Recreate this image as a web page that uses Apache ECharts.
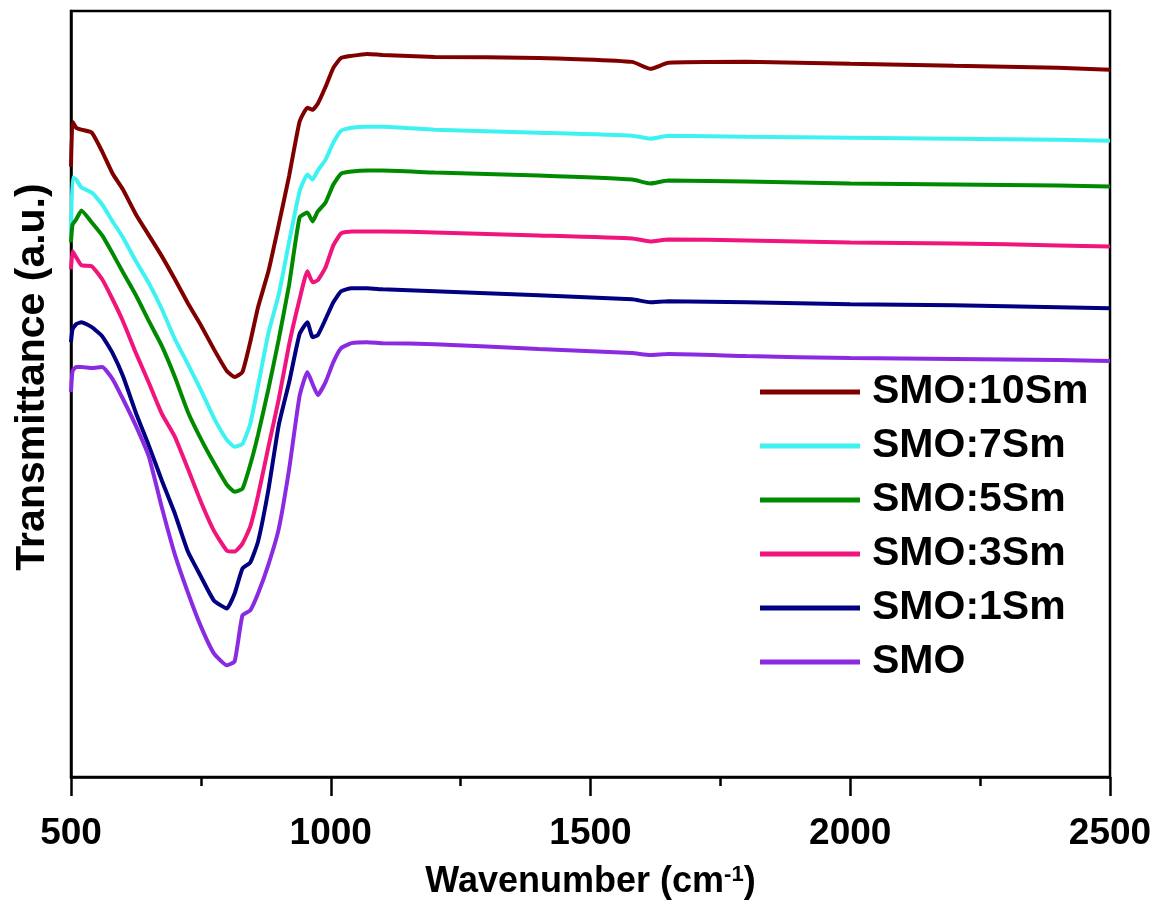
<!DOCTYPE html>
<html>
<head>
<meta charset="utf-8">
<script src="https://cdn.jsdelivr.net/npm/echarts@6/dist/echarts.min.js"></script>
<style>
html,body{margin:0;padding:0;background:#fff;}
#chart{width:1159px;height:905px;}
</style>
</head>
<body>
<div id="chart"></div>
<script>
// Wavenumber (cm-1)
const wavenumber = [500,503,510,520,540,560,580,600,625,650,675,700,725,750,775,800,815,830,845,860,880,900,920,940,955,965,975,990,1005,1020,1040,1070,1100,1200,1400,1580,1615,1650,1800,2000,2200,2400,2500];

// Transmittance (a.u., stacked offsets as plotted)
const smo10Sm = [612,657,651,649,646,627,605,589,564,543,522,499,475,453,429,407,401,406,436,471,507,554,603,657,671,669,675,692,711,721,723,725,724,722,721,717,710,716,717,715,713,711,709];
const smo7Sm  = [546,601,599,591,586,574,557,541,517,495,469,439,414,388,360,338,331,334,354,392,445,484,537,587,604,599,608,619,636,648,651,652,652,649,646,643,640,643,642,641,640,639,638];
const smo5Sm  = [536,554,559,568,556,543,525,506,483,457,432,401,366,339,315,293,286,289,313,343,389,439,494,561,566,557,567,576,594,605,607,608,608,606,603,599,595,598,597,595,594,593,592];
const smo3Sm  = [509,527,521,513,512,499,479,457,425,395,364,341,309,276,247,227,226,234,251,282,331,379,434,479,507,496,498,511,533,545,547,547,547,546,543,540,537,539,538,536,535,533,532];
const smo1Sm  = [436,449,454,456,451,442,425,402,365,332,297,264,226,201,177,169,184,209,215,236,288,353,396,444,456,441,443,459,476,487,490,490,489,487,483,479,476,477,476,474,473,471,470];
const smo     = [386,407,411,411,410,411,399,379,352,321,270,223,185,151,124,112,116,162,167,184,213,249,309,382,406,394,383,396,416,430,435,436,435,434,429,425,423,424,422,420,419,418,417];

const seriesNames = ['SMO:10Sm','SMO:7Sm','SMO:5Sm','SMO:3Sm','SMO:1Sm','SMO'];
const seriesValues = [smo10Sm, smo7Sm, smo5Sm, smo3Sm, smo1Sm, smo];
const seriesColors = ['#800000','#3ff2f2','#008a00','#f0147c','#000080','#8a2be2'];

const xTicks = [500,1000,1500,2000,2500];

const FONT = '"Liberation Sans", Arial, sans-serif';

const chart = echarts.init(document.getElementById('chart'));
chart.setOption({
  backgroundColor: '#ffffff',
  animation: false,
  grid: {
    left: 71, right: 49, top: 11, bottom: 126,
    show: true, borderColor: '#000', borderWidth: 2.5, backgroundColor: 'transparent'
  },
  legend: {
    orient: 'vertical',
    left: 755,
    top: 365,
    icon: 'rect',
    itemWidth: 100,
    itemHeight: 5,
    itemGap: 10,
    data: seriesNames,
    textStyle: {
      fontFamily: FONT, fontWeight: 'bold', fontSize: 41, color: '#000',
      lineHeight: 44, padding: [0,0,0,7]
    }
  },
  xAxis: {
    type: 'value',
    min: 500, max: 2500, interval: 500,
    name: 'Wavenumber (cm{sup|-1})',
    nameLocation: 'middle',
    nameGap: 87,
    nameTextStyle: {
      fontFamily: FONT, fontWeight: 'bold', fontSize: 36, color: '#000',
      rich: { sup: { fontFamily: FONT, fontWeight: 'bold', fontSize: 22, color: '#000', verticalAlign: 'top', padding: [0,0,14,0] } }
    },
    axisLine: { show: true, lineStyle: { color: '#000', width: 2.5 } },
    axisTick: { show: true, inside: false, length: 19, lineStyle: { color: '#000', width: 2.5 } },
    minorTick: { show: true, splitNumber: 2, length: 9, lineStyle: { color: '#000', width: 2.5 } },
    splitLine: { show: false },
    axisLabel: {
      margin: 38,
      fontFamily: FONT, fontWeight: 'bold', fontSize: 37, color: '#000',
      formatter: function (v) { return xTicks.indexOf(v) >= 0 ? String(v) : ''; }
    }
  },
  yAxis: {
    type: 'value',
    min: 0, max: 768,
    name: 'Transmittance (a.u.)',
    nameLocation: 'middle',
    nameGap: 18,
    nameTextStyle: {
      fontFamily: FONT, fontWeight: 'bold', fontSize: 41, color: '#000',
      padding: [0,0,0,34]
    },
    axisLine: { show: true, lineStyle: { color: '#000', width: 2.5 } },
    axisTick: { show: false },
    axisLabel: { show: false },
    splitLine: { show: false }
  },
  series: seriesNames.map(function (name, i) {
    return {
      name: name,
      type: 'line',
      showSymbol: false,
      symbol: 'none',
      smooth: 0.15,
      color: seriesColors[i],
      lineStyle: { color: seriesColors[i], width: 4 },
      data: wavenumber.map(function (x, j) { return [x, seriesValues[i][j]]; })
    };
  })
});
</script>
</body>
</html>
